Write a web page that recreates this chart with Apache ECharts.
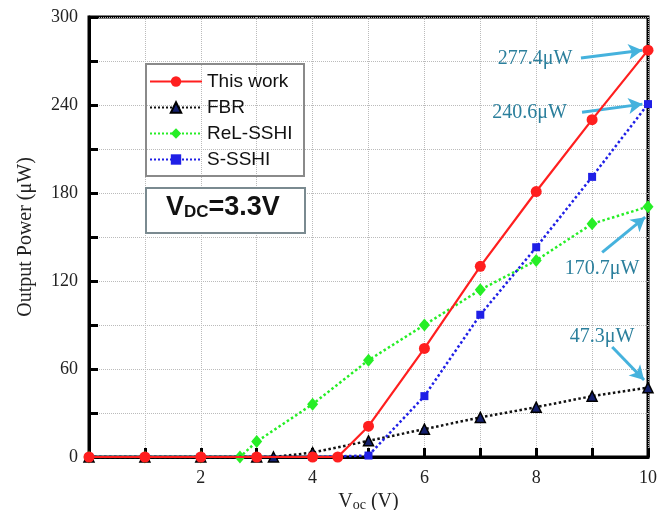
<!DOCTYPE html>
<html>
<head>
<meta charset="utf-8">
<script src="https://cdn.jsdelivr.net/npm/echarts@6/dist/echarts.min.js"></script>
<style>html,body{margin:0;padding:0;background:#fff}#c{width:661px;height:510px}</style>
</head>
<body>
<div id="c"></div>
<script>
// ---- data ----
const thisWorkX = [0, 1, 2, 3, 4, 4.45, 5, 6, 7, 8, 9, 10];
const thisWorkY = [0, 0, 0, 0, 0, 0, 21, 74, 130, 181, 230, 277.4];
const fbrX = [0, 1, 2, 3, 3.3, 4, 5, 6, 7, 8, 9, 10];
const fbrY = [0, 0, 0, 0, 0, 3, 11, 19, 27, 34, 41.5, 47.3];
const relX = [0, 1, 2, 2.7, 3, 4, 5, 6, 7, 8, 9, 10];
const relY = [0, 0, 0, 0, 10.5, 36, 66, 90, 114, 134, 159, 170.7];
const sshiX = [0, 1, 2, 3, 4, 5, 6, 7, 8, 9, 10];
const sshiY = [0, 0, 0, 0, 0, 1, 41.5, 97, 143, 191, 240.6];
const seriesNames = ['This work', 'FBR', 'ReL-SSHI', 'S-SSHI'];
const xTickLabels = [2, 4, 6, 8, 10];
const yTickLabels = [0, 60, 120, 180, 240, 300];
// annotations: [label, textX, textY, arrowStartX, arrowStartY, arrowEndX, arrowEndY]
const annotations = [
  ['277.4μW', 7.98, 271.5, 8.8, 272, 9.9, 277.4],
  ['240.6μW', 7.88, 234.5, 8.82, 235, 9.9, 240.6],
  ['170.7μW', 9.18, 128.5, 9.18, 139.5, 9.95, 163.5],
  ['47.3μW', 9.18, 82, 9.36, 75, 9.93, 52.5]
];

const zip = (xs, ys) => xs.map((x, i) => [x, ys[i]]);
const serif = 'Liberation Serif';
const sans = 'Liberation Sans';

const chart = echarts.init(document.getElementById('c'));
chart.setOption({
  animation: false,
  backgroundColor: '#fff',
  grid: {left: 89, right: 13, top: 17, bottom: 53, outerBoundsMode: 'none', containLabel: false,
    show: true, borderColor: '#000', borderWidth: 3, backgroundColor: 'transparent'},
  xAxis: {
    type: 'value', min: 0, max: 10, interval: 1,
    name: 'V{sub|oc} (V)', nameLocation: 'middle', nameGap: 18,
    nameTextStyle: {fontFamily: serif, fontSize: 20, color: '#222',
      rich: {sub: {fontFamily: serif, fontSize: 14, color: '#222', padding: [6, 0, 0, 0]}}},
    axisLine: {lineStyle: {color: '#000', width: 3}},
    axisTick: {inside: true, length: 9, lineStyle: {color: '#000', width: 3}},
    axisLabel: {fontFamily: serif, fontSize: 18, color: '#222', margin: 12,
      formatter: v => xTickLabels.includes(v) ? String(v) : ''},
    splitLine: {show: true, lineStyle: {color: '#bbb', type: 'dotted', width: 1}}
  },
  yAxis: {
    type: 'value', min: 0, max: 300, interval: 30,
    name: 'Output Power (μW)', nameLocation: 'middle', nameGap: 53,
    nameTextStyle: {fontFamily: serif, fontSize: 20, color: '#222'},
    axisLine: {lineStyle: {color: '#000', width: 3}},
    axisTick: {inside: true, length: 9, lineStyle: {color: '#000', width: 3}},
    axisLabel: {fontFamily: serif, fontSize: 18, color: '#222', margin: 11,
      formatter: v => yTickLabels.includes(v) ? String(v) : ''},
    splitLine: {show: true, lineStyle: {color: '#bbb', type: 'dotted', width: 1}}
  },
  legend: {
    data: seriesNames, orient: 'vertical', left: 149, top: 72,
    itemWidth: 52, itemHeight: 13, itemGap: 7, padding: 0,
    textStyle: {fontFamily: sans, fontSize: 19, color: '#111'}
  },
  graphic: [
    {type: 'rect', left: 145, top: 63, shape: {width: 158, height: 112},
      style: {fill: 'transparent', stroke: '#8a8a8a', lineWidth: 2}, z: 1},
    {type: 'rect', left: 145, top: 187, shape: {width: 159, height: 45},
      style: {fill: '#fff', stroke: '#7a8a90', lineWidth: 2}, z: 10},
    {type: 'text', left: 166, top: 194, z: 11,
      style: {text: 'V{s|DC}=3.3V', fill: '#111', font: 'bold 27px "Liberation Sans"',
        rich: {s: {font: 'bold 17px "Liberation Sans"', fill: '#111', padding: [9, 0, 0, 0]}}}}
  ],
  series: [
    {
      name: 'S-SSHI', type: 'line', data: zip(sshiX, sshiY), z: 5,
      symbol: 'rect', symbolSize: 8,
      lineStyle: {color: '#1f1fe6', width: 2.5, type: 'dotted'},
      itemStyle: {color: '#1f1fe6'}
    },
    {
      name: 'ReL-SSHI', type: 'line', data: zip(relX, relY), z: 3,
      symbol: 'diamond', symbolSize: [11, 13],
      lineStyle: {color: '#26ee26', width: 2.5, type: 'dotted'},
      itemStyle: {color: '#26ee26'}
    },
    {
      name: 'FBR', type: 'line', data: zip(fbrX, fbrY), z: 4,
      symbol: 'triangle', symbolSize: 10,
      lineStyle: {color: '#111', width: 2.5, type: 'dotted'},
      itemStyle: {color: '#14206e', borderColor: '#000', borderWidth: 1.5}
    },
    {
      name: 'This work', type: 'line', data: zip(thisWorkX, thisWorkY), z: 6,
      symbol: 'circle', symbolSize: 11,
      lineStyle: {color: '#ff1f1f', width: 2.2},
      itemStyle: {color: '#ff1f1f'},
      markLine: {
        silent: true, symbol: ['none', 'arrow'], symbolSize: [12, 14],
        lineStyle: {color: '#45b2dd', width: 3, type: 'solid'},
        label: {show: false},
        data: annotations.map(a => [{coord: [a[3], a[4]]}, {coord: [a[5], a[6]]}])
      },
      markPoint: {
        silent: true, symbol: 'circle', symbolSize: 0,
        label: {show: true, position: 'inside', fontFamily: serif, fontSize: 20, color: '#2b7f9c'},
        data: annotations.map(a => ({coord: [a[1], a[2]], value: a[0], label: {formatter: a[0]}}))
      }
    }
  ]
});
</script>
</body>
</html>
